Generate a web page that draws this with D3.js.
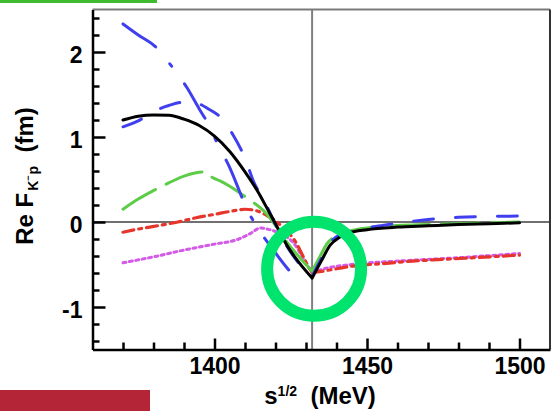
<!DOCTYPE html>
<html>
<head>
<meta charset="utf-8">
<script src="https://cdn.jsdelivr.net/npm/d3@7"></script>
<style>
  html, body { margin: 0; padding: 0; background: #fff; }
  svg { display: block; }
  text { font-family: "Liberation Sans", Arial, Helvetica, sans-serif; font-weight: bold; fill: #000; }
</style>
</head>
<body>
<svg id="chart" width="551" height="411"></svg>
<script>
// K̄N threshold (MeV)
const THRESHOLD = 1432;

// Re F(K⁻p) in fm versus total energy sqrt(s) in MeV, one array pair per model curve
const blackE = [1370, 1375, 1380, 1385, 1390, 1395, 1400, 1405, 1410, 1414, 1418, 1420, 1424, 1428, 1432,
                1435, 1438, 1441, 1444, 1450, 1460, 1470, 1480, 1490, 1500];
const blackRe = [1.20, 1.245, 1.26, 1.255, 1.21, 1.135, 1.01, 0.83, 0.59, 0.37, 0.11, -0.02, -0.29, -0.49, -0.66,
                 -0.46, -0.27, -0.18, -0.13, -0.09, -0.06, -0.045, -0.03, -0.02, -0.01];

const blueAE = [1370, 1375, 1381, 1386, 1391, 1395, 1398, 1401, 1405, 1408, 1410, 1414, 1419.7, 1424, 1427.5];
const blueARe = [2.33, 2.2, 2.05, 1.83, 1.58, 1.33, 1.15, 0.92, 0.64, 0.38, 0.2, -0.06, -0.35, -0.55, -0.69];

const blueBE = [1370, 1375, 1380, 1385, 1390, 1394, 1398, 1402, 1406, 1410, 1413, 1416, 1420, 1424, 1428, 1432,
                1435, 1438, 1441, 1445, 1450, 1455, 1463, 1470, 1480, 1490, 1500];
const blueBRe = [1.12, 1.19, 1.3, 1.37, 1.41, 1.4, 1.33, 1.23, 1.03, 0.75, 0.46, 0.27, -0.03, -0.3, -0.5, -0.64,
                 -0.43, -0.24, -0.15, -0.11, -0.07, -0.04, 0.0, 0.03, 0.055, 0.065, 0.07];

const greenE = [1370, 1375, 1380, 1385, 1390, 1394, 1397, 1399, 1402, 1405, 1408, 1412, 1417, 1420, 1424, 1428, 1432,
                1434.5, 1437, 1440, 1445, 1450, 1460, 1470, 1480, 1490, 1500];
const greenRe = [0.15, 0.27, 0.37, 0.46, 0.54, 0.58, 0.59, 0.53, 0.48, 0.42, 0.35, 0.25, 0.10, -0.04, -0.25, -0.42, -0.58,
                 -0.41, -0.25, -0.16, -0.1, -0.07, -0.04, -0.03, -0.02, -0.01, 0.0];

const redE = [1370, 1374, 1382, 1388, 1394, 1400, 1406, 1410, 1414, 1417.5, 1420.5, 1423, 1426, 1429, 1431, 1432,
              1435, 1440, 1445, 1455, 1465, 1475, 1485, 1500];
const redRe = [-0.12, -0.09, -0.04, 0.0, 0.05, 0.09, 0.13, 0.15, 0.13, 0.07, 0.0, -0.09, -0.2, -0.4, -0.54, -0.59,
               -0.58, -0.55, -0.52, -0.49, -0.46, -0.44, -0.42, -0.39];

const magentaE = [1370, 1380, 1390, 1400, 1408, 1412, 1415, 1418, 1422, 1426, 1429, 1432,
                  1435, 1445, 1460, 1480, 1500];
const magentaRe = [-0.48, -0.41, -0.33, -0.26, -0.2, -0.13, -0.07, -0.09, -0.14, -0.25, -0.42, -0.6,
                   -0.56, -0.5, -0.46, -0.42, -0.37];

// Axis ticks
const xMajorTicks = [1400, 1450, 1500];
const xMinorTicks = [1370, 1380, 1390, 1410, 1420, 1430, 1440, 1460, 1470, 1480, 1490];
const yMajorTicks = [-1, 0, 1, 2];
const yMinorTicks = [-1.4, -1.2, -0.8, -0.6, -0.4, -0.2, 0.2, 0.4, 0.6, 0.8, 1.2, 1.4, 1.6, 1.8, 2.2, 2.4];

const svg = d3.select('#chart');

const x = d3.scaleLinear().domain([1360, 1510]).range([92.5, 550]);
const y = d3.scaleLinear().domain([-1.5, 2.5]).range([349.5, 9.5]);

// decorative bars
svg.append('rect').attr('x', 0).attr('y', 0).attr('width', 157).attr('height', 3).attr('fill', '#3fbb30');
svg.append('rect').attr('x', 0).attr('y', 390).attr('width', 150).attr('height', 21).attr('fill', '#b42537');

// reference lines: Re F = 0 and the threshold energy
svg.append('line')
  .attr('x1', x(1360)).attr('x2', x(1510)).attr('y1', y(0)).attr('y2', y(0))
  .attr('stroke', '#707070').attr('stroke-width', 2);
svg.append('line')
  .attr('x1', x(THRESHOLD)).attr('x2', x(THRESHOLD)).attr('y1', y(2.5)).attr('y2', y(-1.5))
  .attr('stroke', '#808080').attr('stroke-width', 2);

// each curve has a cusp at threshold: smooth the two branches separately
const lineGen = d3.line().x(p => x(p[0])).y(p => y(p[1])).curve(d3.curveMonotoneX);
function cuspPath(E, V) {
  const pts = E.map((e, i) => [e, V[i]]);
  const left = pts.filter(p => p[0] <= THRESHOLD);
  const right = pts.filter(p => p[0] >= THRESHOLD);
  let d = '';
  if (left.length > 1) d += lineGen(left);
  if (right.length > 1) d += lineGen(right);
  return d;
}

const series = [
  { E: magentaE, V: magentaRe, color: '#d45ae8', width: 3, dash: '3 3.5' },
  { E: redE, V: redRe, color: '#e6362c', width: 3.2, dash: '11 5 3 5' },
  { E: greenE, V: greenRe, color: '#5dcd48', width: 3, dash: '38 12' },
  { E: blueAE, V: blueARe, color: '#3f3ff0', width: 3, dash: '40 22 3 22' },
  { E: blueBE, V: blueBRe, color: '#3f3ff0', width: 3, dash: '20 22' },
  { E: blackE, V: blackRe, color: '#000000', width: 3, dash: null }
];

svg.append('g').selectAll('path').data(series).join('path')
  .attr('d', s => cuspPath(s.E, s.V))
  .attr('fill', 'none')
  .attr('stroke', s => s.color)
  .attr('stroke-width', s => s.width)
  .attr('stroke-dasharray', s => s.dash)
  .attr('stroke-linecap', 'round')
  .attr('stroke-linejoin', 'round');

// frame: grey top, dark right
svg.append('line').attr('x1', x(1360)).attr('x2', x(1510)).attr('y1', y(2.5)).attr('y2', y(2.5))
  .attr('stroke', '#7a7a7a').attr('stroke-width', 2);
svg.append('line').attr('x1', x(1510)).attr('x2', x(1510)).attr('y1', y(2.5)).attr('y2', y(-1.5))
  .attr('stroke', '#333').attr('stroke-width', 2);

// x axis, ticks pointing inward
const xAxisG = svg.append('g').attr('transform', `translate(0,${y(-1.5)})`);
xAxisG.call(d3.axisBottom(x).tickValues(xMajorTicks).tickSizeInner(-11).tickSizeOuter(0).tickPadding(8).tickFormat(d3.format('d')));
xAxisG.append('g').call(d3.axisBottom(x).tickValues(xMinorTicks).tickSizeInner(-7).tickSizeOuter(0).tickFormat(''))
  .select('.domain').remove();

// y axis, ticks pointing inward
const yAxisG = svg.append('g').attr('transform', `translate(${x(1360)},0)`);
yAxisG.call(d3.axisLeft(y).tickValues(yMajorTicks).tickSizeInner(-13).tickSizeOuter(0).tickPadding(10)
  .tickFormat(d => d < 0 ? '-' + Math.abs(d) : String(d)));
yAxisG.append('g').call(d3.axisLeft(y).tickValues(yMinorTicks).tickSizeInner(-7).tickSizeOuter(0).tickFormat(''))
  .select('.domain').remove();

svg.selectAll('.domain').attr('stroke', '#000').attr('stroke-width', 2.5);
svg.selectAll('.tick line').attr('stroke', '#000').attr('stroke-width', 2.5);
svg.selectAll('.tick text')
  .style('font-size', '23px').style('font-weight', 'bold')
  .style('font-family', '"Liberation Sans", Arial, Helvetica, sans-serif');
yAxisG.selectAll('.tick text').attr('dy', '0.46em');

// axis titles
const ylab = svg.append('text')
  .attr('transform', 'translate(33,176) rotate(-90)')
  .attr('text-anchor', 'middle')
  .style('font-size', '24px');
ylab.append('tspan').text('Re F');
ylab.append('tspan').style('font-size', '14px').attr('dx', 2).attr('dy', 5).text('K');
ylab.append('tspan').style('font-size', '9px').attr('dy', -7).text('\u2212');
ylab.append('tspan').style('font-size', '14px').attr('dx', 1).attr('dy', 7).text('p');
ylab.append('tspan').attr('dy', -5).text('\u00a0\u00a0(fm)');

const xlab = svg.append('text')
  .attr('x', 320).attr('y', 404)
  .attr('text-anchor', 'middle')
  .style('font-size', '24px');
xlab.append('tspan').text('s');
xlab.append('tspan').style('font-size', '14px').attr('dy', -8).text('1/2');
xlab.append('tspan').attr('dy', 8).text('\u00a0\u00a0(MeV)');

// highlight ring around the threshold cusp
svg.append('circle')
  .attr('cx', x(THRESHOLD) + 2).attr('cy', y(-0.55))
  .attr('r', 47)
  .attr('fill', 'none')
  .attr('stroke', '#00e36c')
  .attr('stroke-width', 12);
</script>
</body>
</html>
